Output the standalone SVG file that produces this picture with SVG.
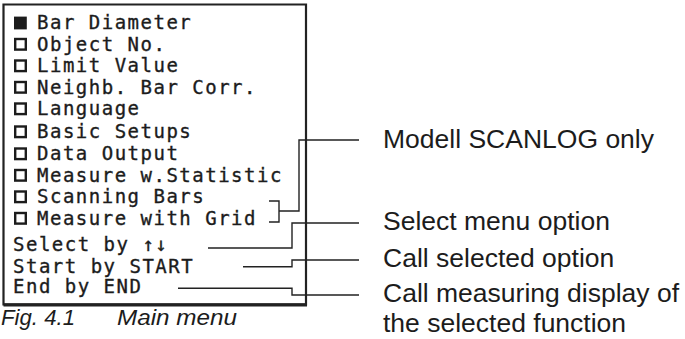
<svg xmlns="http://www.w3.org/2000/svg" width="685" height="339" viewBox="0 0 685 339">
<style>
.lcd{font-family:"DejaVu Sans Mono","Liberation Mono",monospace;font-size:19px;letter-spacing:1.5px;fill:#1c1c1c;stroke:#1c1c1c;stroke-width:0.35}
.lbl{font-family:"Liberation Sans",Arial,sans-serif;font-size:26.5px;fill:#1c1c1c}
.cap{font-family:"Liberation Sans",Arial,sans-serif;font-size:22px;font-style:italic;fill:#1c1c1c}
.ln{fill:none;stroke:#222;stroke-width:1.4}
.box{fill:none;stroke:#222;stroke-width:2.2}
.sq{fill:none;stroke:#1c1c1c;stroke-width:2.4}
</style>
<rect width="685" height="339" fill="#fff"/>
<g id="display">
<path class="box" d="M3.5 4.5 H306 V304.5 H3.5 Z"/>
<path d="M3.5 304.8 H307" stroke="#222" stroke-width="3.2"/>
<rect x="14" y="16.6" width="12.8" height="12.8" fill="#1c1c1c"/>
<text class="lcd" x="37" y="29">Bar Diameter</text>
<rect class="sq" x="15.2" y="39" width="10.6" height="10.6"/>
<text class="lcd" x="37" y="50.5">Object No.</text>
<rect class="sq" x="15.2" y="60.5" width="10.6" height="10.6"/>
<text class="lcd" x="37" y="72">Limit Value</text>
<rect class="sq" x="15.2" y="82" width="10.6" height="10.6"/>
<text class="lcd" x="37" y="93.5">Neighb. Bar Corr.</text>
<rect class="sq" x="15.2" y="103.5" width="10.6" height="10.6"/>
<text class="lcd" x="37" y="115">Language</text>
<rect class="sq" x="15.2" y="126.5" width="10.6" height="10.6"/>
<text class="lcd" x="37" y="138">Basic Setups</text>
<rect class="sq" x="15.2" y="148.5" width="10.6" height="10.6"/>
<text class="lcd" x="37" y="160">Data Output</text>
<rect class="sq" x="15.2" y="170" width="10.6" height="10.6"/>
<text class="lcd" x="37" y="181.5">Measure w.Statistic</text>
<rect class="sq" x="15.2" y="191.5" width="10.6" height="10.6"/>
<text class="lcd" x="37" y="203">Scanning Bars</text>
<rect class="sq" x="15.2" y="213" width="10.6" height="10.6"/>
<text class="lcd" x="37" y="224.5">Measure with Grid</text>
<text class="lcd" x="13" y="251">Select by ↑↓</text>
<text class="lcd" x="13" y="273">Start by START</text>
<text class="lcd" x="13" y="293">End by END</text>
</g>
<g id="connectors">
<path class="ln" d="M269 201 H279 V222 H269 M279 211 H299 V140 H359"/>
<path class="ln" d="M208 248 H292 V223 H359"/>
<path class="ln" d="M243 266.7 H292 V260 H359"/>
<path class="ln" d="M178 288.3 H292 V295 H359"/>
</g>
<g id="labels">
<text class="lbl" x="383" y="148">Modell SCANLOG only</text>
<text class="lbl" x="383" y="230">Select menu option</text>
<text class="lbl" x="383" y="266.5">Call selected option</text>
<text class="lbl" x="383" y="301.5">Call measuring display of</text>
<text class="lbl" x="383" y="332">the selected function</text>
</g>
<g id="caption">
<text class="cap" x="1" y="325" textLength="74" lengthAdjust="spacingAndGlyphs">Fig. 4.1</text>
<text class="cap" x="117" y="325" textLength="120" lengthAdjust="spacingAndGlyphs">Main menu</text>
</g>
</svg>
